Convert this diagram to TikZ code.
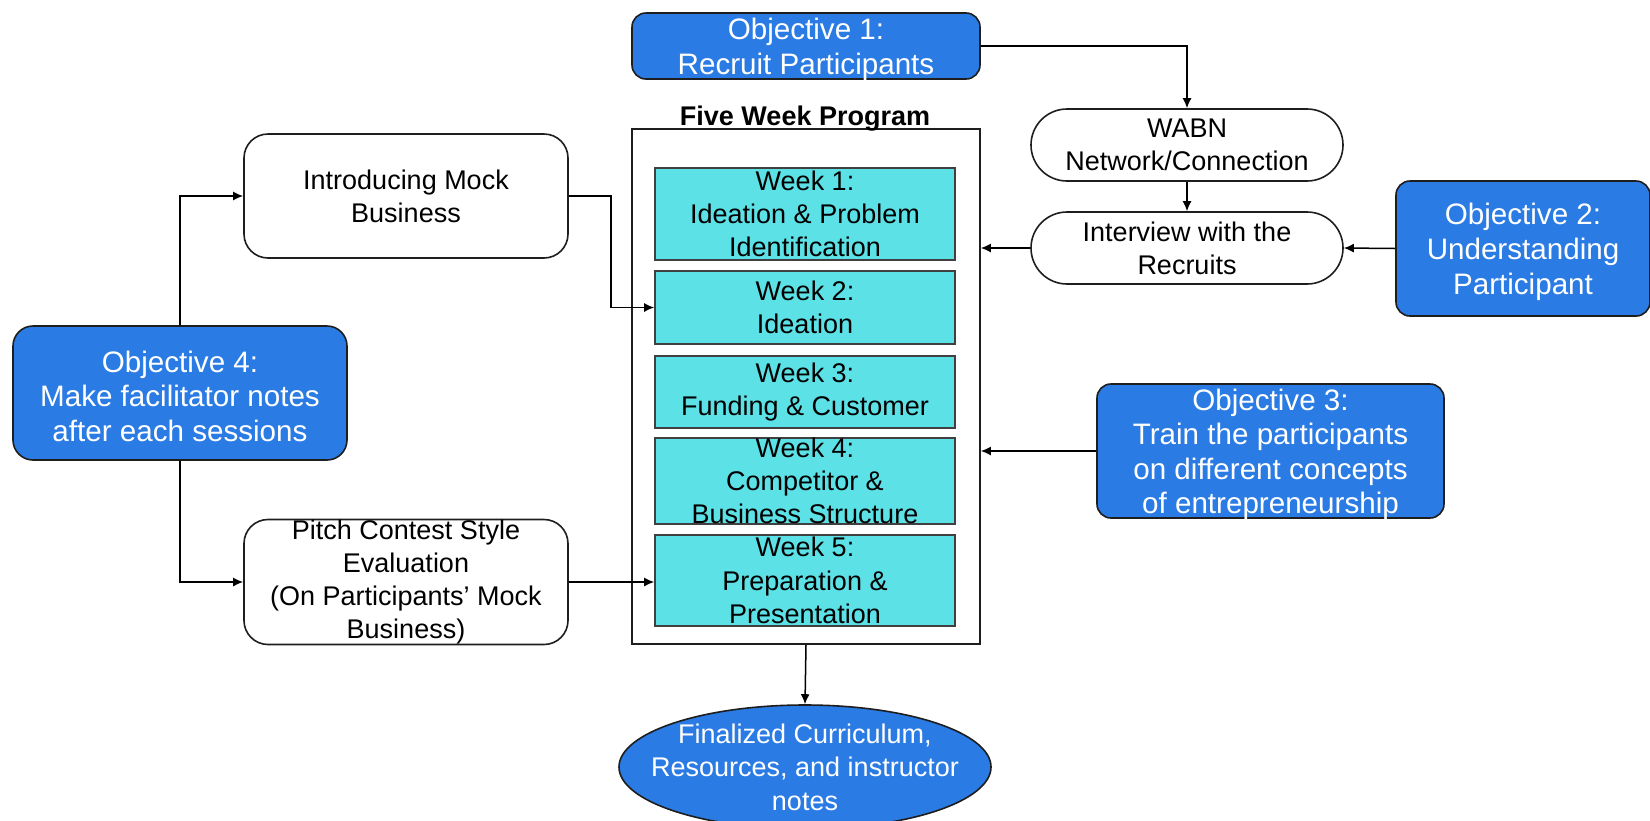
\documentclass[tikz,border=0pt]{standalone}
\usepackage{fontspec}
\setmainfont{Liberation Sans}
\usetikzlibrary{arrows.meta,shapes.misc,shapes.geometric}
\definecolor{objblue}{HTML}{2A7BE4}
\definecolor{weekcyan}{HTML}{5CE1E6}
\definecolor{edge}{HTML}{1E1E1E}
\tikzset{
  base/.style={align=center,inner sep=0pt,line width=0.8pt,draw=edge},
  objbox/.style={base,fill=objblue,rounded corners=7pt},
  objtext/.style={align=center,inner sep=0pt,text=white,yshift=-1.7pt,
    font=\fontsize{14.8}{17.3}\selectfont},
  plainbox/.style={base,fill=white,rounded corners=12pt,
    font=\fontsize{13.5}{16.6}\selectfont},
  pill/.style={base,fill=white,rounded rectangle,
    font=\fontsize{13.5}{16.6}\selectfont},
  weekbox/.style={base,fill=weekcyan,draw=edge!85,
    font=\fontsize{13.5}{16.6}\selectfont},
  progbox/.style={base,fill=white},
  finalshape/.style={base,ellipse,fill=objblue},
  finaltext/.style={align=center,inner sep=0pt,text=white,
    font=\fontsize{13.5}{16.8}\selectfont},
  arr/.style={line width=0.75pt,draw=black,-{Latex[length=5pt,width=4.5pt]}},
  wh/.style 2 args={minimum width=#1*0.5pt,minimum height=#2*0.5pt}
}
\begin{document}
\begin{tikzpicture}[x=0.5pt,y=-0.5pt]
\useasboundingbox[fill=white] (0,0) rectangle (1650,820);

% Program container
\node[progbox,wh={348}{515}] (prog) at (806,386.5) {};
\node[font=\bfseries\fontsize{13.5}{16}\selectfont,inner sep=0pt] (title) at (805,119) {Five Week Program};

\node[weekbox,wh={300}{92}] (week1) at (805,214) {Week 1:\\Ideation \& Problem\\Identification};
\node[weekbox,wh={300}{73}] (week2) at (805,307.5) {Week 2:\\Ideation};
\node[weekbox,wh={300}{72}] (week3) at (805,392) {Week 3:\\Funding \& Customer};
\node[weekbox,wh={300}{82}] (week4) at (805,481) {Week 4:\\Competitor \&\\Business Structure};
\node[weekbox,wh={300}{91}] (week5) at (805,580.5) {Week 5:\\Preparation \&\\Presentation};

% Objectives
\node[objbox,wh={348}{66}] (obj1) at (806,46) {};
\node[objtext] (obj1t) at (obj1.center) {Objective 1:\\Recruit Participants};
\node[objbox,wh={254}{135}] (obj2) at (1523,248.5) {};
\node[objtext] (obj2t) at (obj2.center) {Objective 2:\\Understanding\\Participant};
\node[objbox,wh={347}{134}] (obj3) at (1270.5,451) {};
\node[objtext] (obj3t) at (obj3.center) {Objective 3:\\Train the participants\\on different concepts\\of entrepreneurship};
\node[objbox,wh={334}{134},rounded corners=10pt] (obj4) at (180,393) {};
\node[objtext] (obj4t) at (obj4.center) {Objective 4:\\Make facilitator notes\\after each sessions};

% Pills
\node[pill,wh={312}{72}] (wabn) at (1187,145) {WABN\\Network/Connection};
\node[pill,wh={312}{72}] (interview) at (1187,248) {Interview with the\\Recruits};

% Left boxes
\node[plainbox,wh={324}{124}] (intro) at (406,196) {Introducing Mock\\Business};
\node[plainbox,wh={324}{125}] (pitch) at (406,582) {Pitch Contest Style\\Evaluation\\(On Participants’ Mock\\Business)};

% Final
\node[finalshape,wh={372}{124}] (final) at (805,767) {};
\node[finaltext] (finallabel) at (final.center) {Finalized Curriculum,\\Resources, and instructor\\notes};

% Connectors
\coordinate (j1) at (611,196);
\draw[arr] (obj1.east) -| (wabn.north);
\draw[arr] (wabn.south) -- (interview.north);
\draw[arr] (interview.west) -- (interview.west -| prog.east);
\draw[arr] (obj2.west) -- (interview.east);
\draw[arr] (obj3.west) -- (obj3.west -| prog.east);
\draw[arr] (obj4.north) |- (intro.west);
\draw[arr] (intro.east) -- (j1) |- (week2.west);
\draw[arr] (obj4.south) |- (pitch.west);
\draw[arr] (pitch.east) -- (pitch.east -| week5.west);
\draw[arr] (prog.south) -- (final.north);
\end{tikzpicture}
\end{document}
